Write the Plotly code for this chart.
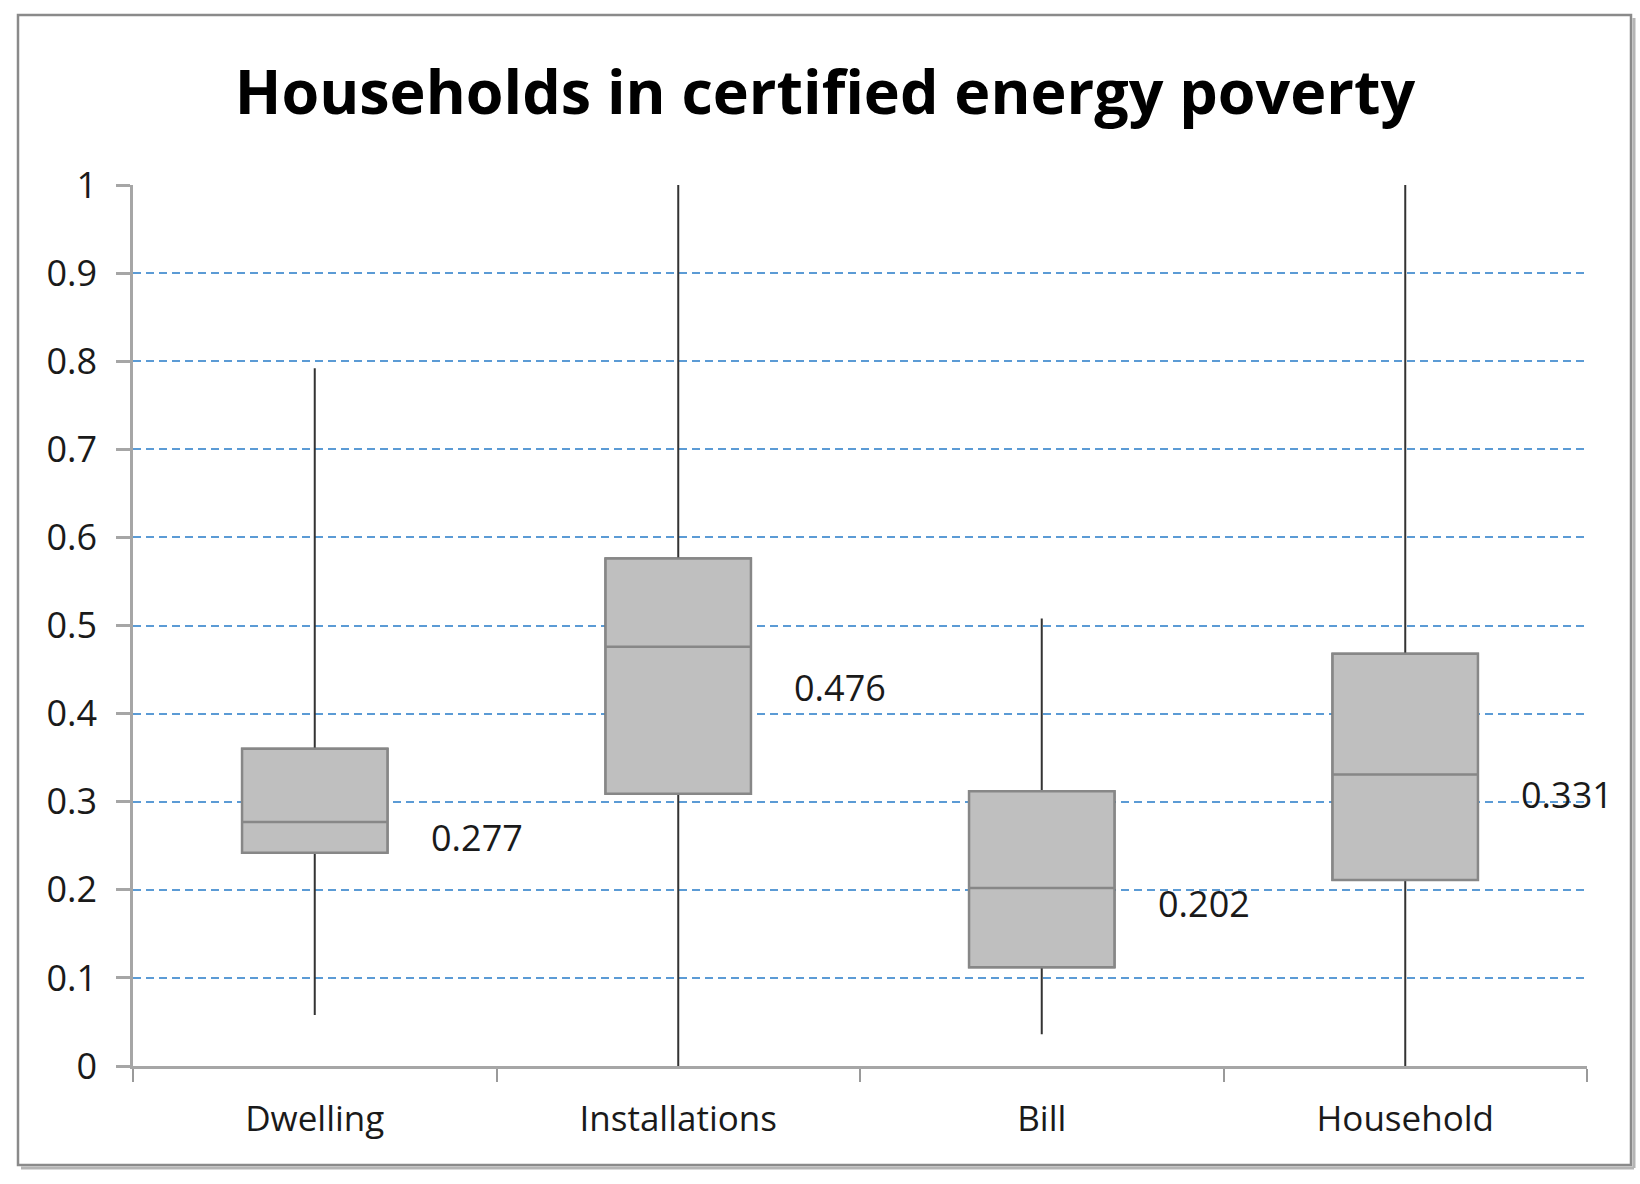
import plotly.graph_objects as go

categories = ["Dwelling", "Installations", "Bill", "Household"]
lower_whisker = [0.058, 0.0, 0.036, 0.0]
q1_values = [0.242, 0.309, 0.112, 0.211]
medians = [0.277, 0.476, 0.202, 0.331]
q3_values = [0.360, 0.576, 0.312, 0.468]
upper_whisker = [0.792, 1.0, 0.508, 1.0]
median_labels = ["0.277", "0.476", "0.202", "0.331"]
y_ticks = [0, 0.1, 0.2, 0.3, 0.4, 0.5, 0.6, 0.7, 0.8, 0.9, 1]

FONT = "Open Sans"
W, H = 1640, 1184
ML, MR, MT, MB = 133, 53, 185, 118

fig = go.Figure()
# whiskers (dark)
fig.add_trace(go.Box(
    x=categories, q1=q1_values, median=medians, q3=q3_values,
    lowerfence=lower_whisker, upperfence=upper_whisker,
    width=0.4, whiskerwidth=0, fillcolor="#BFBFBF",
    line=dict(color="#333333", width=2), showlegend=False, hoverinfo="skip",
))
# box body (gray outline) drawn on top
fig.add_trace(go.Box(
    x=categories, q1=q1_values, median=medians, q3=q3_values,
    lowerfence=q1_values, upperfence=q3_values,
    width=0.4, whiskerwidth=0, fillcolor="#BFBFBF",
    line=dict(color="#878787", width=2.5), showlegend=False, hoverinfo="skip",
))

# median data labels (offset placement as in the original)
label_dy = [-0.018, -0.0465, -0.018, -0.023]
for i, (m, t) in enumerate(zip(medians, median_labels)):
    fig.add_annotation(x=i + 0.314, y=m + label_dy[i], text=t, showarrow=False,
                       xref="x", yref="y", xanchor="left", yanchor="middle",
                       font=dict(family=FONT, size=36, color="#1a1a1a"))

pw, ph = W - ML - MR, H - MT - MB


def px(x):
    return (x - ML) / pw


def py(y):
    return (H - MB - y) / ph


# chart-area border with a soft shadow on bottom/right
fig.add_shape(type="line", xref="paper", yref="paper",
              x0=px(21), x1=px(1634), y0=py(1168), y1=py(1168),
              line=dict(color="#b5b5b5", width=3), layer="below")
fig.add_shape(type="line", xref="paper", yref="paper",
              x0=px(1634), x1=px(1634), y0=py(18), y1=py(1168),
              line=dict(color="#b5b5b5", width=3), layer="below")
fig.add_shape(type="rect", xref="paper", yref="paper",
              x0=px(18), x1=px(1631), y0=py(1165), y1=py(15),
              line=dict(color="#8a8a8a", width=2.5), fillcolor="rgba(0,0,0,0)", layer="below")

fig.update_layout(
    width=W, height=H,
    margin=dict(l=ML, r=MR, t=MT, b=MB),
    paper_bgcolor="white", plot_bgcolor="white",
    boxmode="overlay",
    title=dict(text="<b>Households in certified energy poverty</b>",
               x=825 / W, xanchor="center", y=1 - 93 / H, yanchor="middle",
               font=dict(family=FONT, size=61, color="black")),
    xaxis=dict(type="category", range=[-0.5, 3.5], tickson="boundaries",
               ticks="outside", ticklen=13, tickcolor="#9a9a9a", tickwidth=2,
               showline=True, linecolor="#a6a6a6", linewidth=2.5, showgrid=False,
               ticklabelstandoff=20,
               tickfont=dict(family=FONT, size=35, color="#1a1a1a")),
    yaxis=dict(range=[0, 1], tickvals=y_ticks, ticktext=[f"{v:g}" for v in y_ticks],
               ticks="outside", ticklen=14, tickcolor="#a6a6a6", tickwidth=2.5,
               showline=True, linecolor="#a6a6a6", linewidth=2.5,
               showgrid=True, gridcolor="#5B9BD5", gridwidth=2, griddash="8px,5px",
               zeroline=False, ticklabelstandoff=12,
               tickfont=dict(family=FONT, size=36, color="#1a1a1a")),
)

fig.write_html("out.html", config={"displayModeBar": False},
               post_script="document.body.style.margin='0px';document.body.style.overflow='hidden';")
